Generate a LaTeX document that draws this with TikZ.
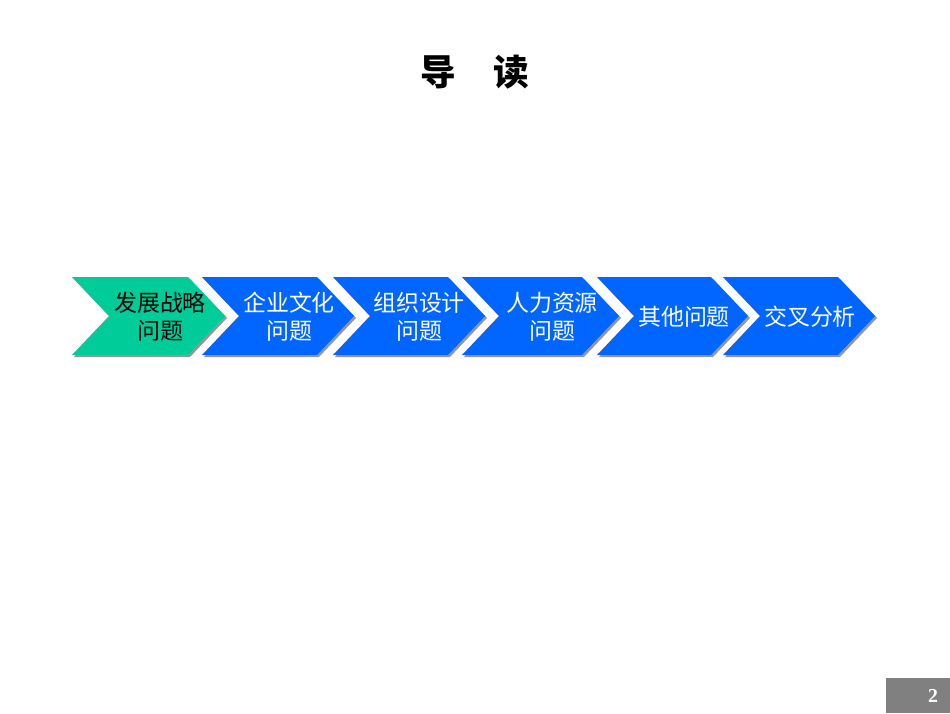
\documentclass[tikz,border=0pt]{standalone}
\usepackage{fontspec}
\setmainfont{Liberation Serif}
\newfontfamily\cjk{Noto Sans CJK SC}
\definecolor{chevgreen}{RGB}{0,204,153}
\definecolor{chevblue}{RGB}{0,102,255}
\definecolor{shadowgray}{RGB}{150,150,150}
\definecolor{pagegray}{RGB}{128,128,128}
\newcommand\mychev[3]{%
  \begin{scope}[shift={(#1,0)}]
    \fill[shadowgray] (2,279) -- (#2-35,279) -- (#2+2,318) -- (#2-35,357) -- (2,357) -- (39,318) -- cycle;
    \fill[#3] (0,277) -- (#2-37,277) -- (#2,316) -- (#2-37,355) -- (0,355) -- (37,316) -- cycle;
  \end{scope}}
\tikzset{
  chevtext/.style={font=\cjk\fontsize{17.4pt}{21.2pt}\selectfont, align=center, text=white, inner sep=0pt},
}
\begin{document}
\begin{tikzpicture}[x=0.7579pt,y=-0.7579pt]
\useasboundingbox[fill=white] (0,0) rectangle (950,713);
\node[font=\cjk\bfseries\fontsize{27pt}{30pt}\selectfont, inner sep=0pt] (title) at (475,72) {导\hspace{1.05em}读};
\mychev{72}{153}{chevgreen}
\mychev{202}{152}{chevblue}
\mychev{333}{152}{chevblue}
\mychev{462}{157}{chevblue}
\mychev{597}{151}{chevblue}
\mychev{723}{152}{chevblue}
\node[chevtext, text=black] (c1) at (160,317) {发展战略\\问题};
\node[chevtext] (c2) at (289,317) {企业文化\\问题};
\node[chevtext] (c3) at (419,317) {组织设计\\问题};
\node[chevtext] (c4) at (552,317) {人力资源\\问题};
\node[chevtext] (c5) at (684,317) {其他问题};
\node[chevtext] (c6) at (810,317) {交叉分析};
\fill[pagegray] (886,678) rectangle (950,713);
\node[text=white, font=\bfseries\fontsize{15pt}{18pt}\selectfont, inner sep=0pt] (pnum) at (933,696) {2};
\end{tikzpicture}
\end{document}
